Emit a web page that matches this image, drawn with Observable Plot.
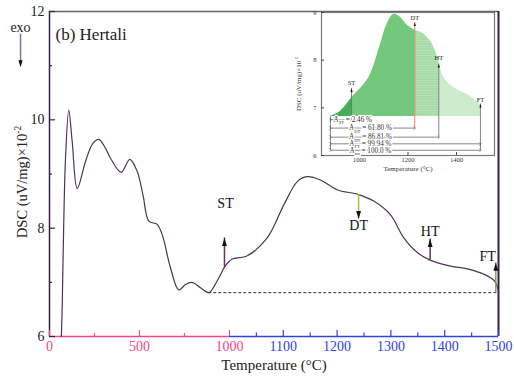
<!DOCTYPE html>
<html>
<head>
<meta charset="utf-8">
<script src="https://cdn.jsdelivr.net/npm/d3@7"></script>
<script src="https://cdn.jsdelivr.net/npm/@observablehq/plot@0.6"></script>
<style>
  body { margin: 0; background: #fff; }
  #chart { position: relative; width: 514px; height: 378px; }
  #chart svg { position: absolute; top: 0; }
</style>
</head>
<body>
<div id="chart"></div>
<script>
// DSC trace of the Hertali sample, 0–1500 °C
const temperature = [66, 71, 79, 89, 107, 126, 154, 200, 240, 274, 310, 339, 398, 446, 487, 520, 552, 598, 626, 672,
  718, 755, 793, 839, 885, 932, 972, 996, 1005, 1033, 1070, 1101, 1126, 1144, 1169, 1200, 1240, 1268, 1299, 1324,
  1349, 1373, 1411, 1442, 1473, 1492, 1500];
const dsc = [6.0, 6.6, 8.07, 9.29, 10.18, 9.6, 8.73, 9.23, 9.56, 9.64, 9.48, 9.29, 9.03, 9.27, 9.05, 8.6, 8.13, 8.07, 7.88, 7.27,
  6.86, 6.96, 7.0, 6.9, 6.81, 7.03, 7.28, 7.38, 7.43, 7.49, 7.82, 8.43, 8.86, 8.95, 8.89, 8.71, 8.62, 8.5, 8.25, 7.82,
  7.55, 7.41, 7.3, 7.25, 7.15, 7.03, 6.84];
const baselineDsc = 6.81;
const baselineStart = 885;

// Characteristic temperatures on the main trace
const eventNames = ["ST", "DT", "HT", "FT"];
const eventTemperature = [972, 1240, 1373, 1495];
const eventBase = [7.28, 8.62, 7.41, 6.81];
const eventTip = [7.82, 8.17, 7.80, 7.36];
const eventLabelTemperature = [978, 1240, 1373, 1480];
const eventLabelDsc = [8.46, 8.05, 7.93, 7.47];

// Close-up of the melting region (inset)
const insetTemperature = [880, 922, 967, 1018, 1045, 1087, 1114, 1141, 1169, 1197, 1228, 1265, 1300, 1327, 1348, 1389, 1444, 1499];
const insetDsc = [6.82, 6.93, 7.21, 7.49, 7.70, 8.34, 8.76, 8.96, 8.90, 8.73, 8.63, 8.55, 8.34, 7.99, 7.63, 7.42, 7.28, 7.07];
const insetBaseline = 6.82;
const insetStart = 880;
const insetEventTemperature = [967, 1228, 1327, 1499];
const insetEventTip = [7.41, 8.79, 7.92, 7.08];
const insetEventLabelDsc = [7.52, 8.89, 8.05, 7.16];

// Area fractions between the onset and each characteristic temperature
const areaLabels = ["A_{ST} = 2.46 %", "A_{DT} = 61.80 %", "A_{HT} = 86.81 %", "A_{FT} = 99.94 %", "A_{tot} = 100.0 %"];
const areaEnd = [967, 1228, 1327, 1499, 1499];
const areaRowDsc = [6.75, 6.575, 6.385, 6.245, 6.11];

// Tick values
const xMajorLow = [0, 500, 1000];
const xMinorLow = [250, 750];
const xMajorHigh = [1100, 1200, 1300, 1400, 1500];
const xMinorHigh = [1050, 1150, 1250, 1350, 1450];
const yMajor = [6, 8, 10, 12];
const yMinor = [7, 9, 11];
const insetXTicks = [1000, 1200, 1400];
const insetYTicks = [6, 7, 8, 9];

const curvePoints = temperature.map((t, i) => ({t, v: dsc[i]}));
const insetPoints = insetTemperature.map((t, i) => ({t, v: insetDsc[i]}));
const events = eventNames.map((name, i) => ({
  name, t: eventTemperature[i], base: eventBase[i], tip: eventTip[i],
  lt: eventLabelTemperature[i], lv: eventLabelDsc[i]
}));
const insetEvents = eventNames.map((name, i) => ({name, t: insetEventTemperature[i], tip: insetEventTip[i], lv: insetEventLabelDsc[i]}));
const areaRows = areaLabels.map((label, i) => ({label, t: areaEnd[i], v: areaRowDsc[i]}));

const pink = "#f2468c";
const blue = "#2d44e2";
const frameDark = "#35223f";
const serif = "'Liberation Serif', 'Times New Roman', serif";

// narrow filled arrowhead with its tip at the origin
const arrowHead = {
  draw(context, size) {
    const r = Math.sqrt(size / Math.PI);
    context.moveTo(0, 0);
    context.lineTo(r * 0.6, r * 2);
    context.lineTo(-r * 0.6, r * 2);
    context.closePath();
  }
};

const frameH = 378 - 11 - 42;
const frameW = 514 - 49 - 16;

const main = Plot.plot({
  width: 514,
  height: 378,
  marginLeft: 49,
  marginRight: 16,
  marginTop: 11,
  marginBottom: 42,
  x: {type: "linear", domain: [0, 1000, 1500], range: [49, 229, 498], axis: null},
  y: {domain: [6, 12], axis: null},
  style: {background: "transparent", fontFamily: serif, fontSize: "14px", overflow: "visible", color: "#111"},
  marks: [
    // frame
    Plot.ruleY([12], {stroke: "#666", strokeWidth: 1.5}),
    Plot.ruleX([0], {stroke: frameDark, strokeWidth: 1.5}),
    Plot.ruleX([1500], {stroke: frameDark, strokeWidth: 2}),
    Plot.ruleY([{y: 6, a: 0, b: 1000}], {y: "y", x1: "a", x2: "b", stroke: pink, strokeWidth: 1.5}),
    Plot.ruleY([{y: 6, a: 1000, b: 1500}], {y: "y", x1: "a", x2: "b", stroke: blue, strokeWidth: 1.5}),
    // inward ticks
    Plot.tickX(xMajorLow, {x: d => d, stroke: pink, strokeWidth: 1.2, insetTop: frameH - 6}),
    Plot.tickX(xMinorLow, {x: d => d, stroke: pink, strokeWidth: 1.2, insetTop: frameH - 3}),
    Plot.tickX(xMajorHigh, {x: d => d, stroke: blue, strokeWidth: 1.2, insetTop: frameH - 6}),
    Plot.tickX(xMinorHigh, {x: d => d, stroke: blue, strokeWidth: 1.2, insetTop: frameH - 3.5}),
    Plot.tickY(yMajor, {y: d => d, stroke: frameDark, strokeWidth: 1.2, insetRight: frameW - 6}),
    Plot.tickY(yMinor, {y: d => d, stroke: frameDark, strokeWidth: 1.2, insetRight: frameW - 3}),
    // tick labels
    Plot.text(xMajorLow, {x: d => d, text: d => String(d), frameAnchor: "bottom", dy: 14, fill: pink}),
    Plot.text(xMajorHigh, {x: d => d, text: d => String(d), frameAnchor: "bottom", dy: 14, fill: blue}),
    Plot.text(yMajor, {y: d => d, text: d => String(d), frameAnchor: "left", dx: -5, textAnchor: "end", fill: "#222"}),
    // axis titles
    Plot.text(["Temperature (°C)"], {frameAnchor: "bottom", dy: 33, fontSize: 15, fill: "#222"}),
    Plot.text(["DSC (uV/mg)×10^{-2}"], {frameAnchor: "left", textAnchor: "middle", dx: -27, dy: 8, rotate: -90, fontSize: 14.5, fill: "#222"}),
    Plot.text(["(b) Hertali"], {frameAnchor: "top-left", dx: 6, dy: 16, textAnchor: "start", fontSize: 17, fill: "#222"}),
    Plot.text(["exo"], {x: () => -161, y: () => 11.71, fontSize: 14, fill: "#222"}),
    Plot.ruleX([{x: -161, a: 11.58, b: 11.04}], {x: "x", y1: "a", y2: "b", stroke: "#8b6f9b", strokeWidth: 1.5}),
    Plot.dot([{x: -161, y: 10.97}], {x: "x", y: "y", symbol: arrowHead, r: 3.5, rotate: 180, fill: "#111", stroke: null}),
    // baseline and trace
    Plot.ruleY([{y: baselineDsc, a: baselineStart, b: 1500}], {y: "y", x1: "a", x2: "b", stroke: "#333", strokeWidth: 1, strokeDasharray: "3,2"}),
    Plot.line(curvePoints, {x: "t", y: "v", curve: "catmull-rom", stroke: "#4d3550", strokeWidth: 1.2}),
    // characteristic temperature arrows
    Plot.ruleX(events, {x: "t", y1: "base", y2: "tip",
      stroke: d => ({ST: "#6b2d6e", DT: "#a9c23f", HT: "#6b2d6e", FT: "#8a9a60"})[d.name], strokeWidth: 1.5}),
    Plot.dot(events, {x: "t", y: "tip", symbol: arrowHead, r: 4, rotate: d => d.tip < d.base ? 180 : 0, fill: "#111", stroke: null}),
    Plot.text(events, {x: "lt", y: "lv", text: "name", fontSize: 14, fill: "#111"})
  ]
});

const iFrameH = 178 - 12 - 23;
const iFrameW = 210 - 31 - 6;
const segment = (a, b) => insetPoints.filter(d => d.t >= a && d.t <= b);
const segFills = ["#45ad52", "#74c87c", "url(#dtht-stripes)", "#ccebcc"];
const bounds = [insetStart, ...insetEventTemperature];

const inset = Plot.plot({
  width: 210,
  height: 178,
  marginLeft: 31,
  marginRight: 6,
  marginTop: 12,
  marginBottom: 23,
  x: {domain: [843, 1557], axis: null},
  y: {domain: [6, 9], axis: null},
  style: {background: "transparent", fontFamily: serif, fontSize: "7px", overflow: "visible", color: "#222"},
  marks: [
    ...segFills.map((fill, i) => Plot.areaY(segment(bounds[i], bounds[i + 1]),
      {x: "t", y1: insetBaseline, y2: "v", fill, curve: "catmull-rom"})),
    Plot.frame({stroke: "#7a7a7a", strokeWidth: 1.2}),
    Plot.tickX(insetXTicks, {x: d => d, stroke: "#444", insetTop: iFrameH - 3}),
    Plot.tickY(insetYTicks, {y: d => d, stroke: "#444", insetRight: iFrameW - 3}),
    Plot.text(insetXTicks, {x: d => d, text: d => String(d), frameAnchor: "bottom", dy: 6, fontSize: 6.5, fill: "#333"}),
    Plot.text(insetYTicks, {y: d => d, text: d => String(d), frameAnchor: "left", dx: -5, textAnchor: "end", fontSize: 6.5, fill: "#333"}),
    Plot.text(["Temperature (°C)"], {frameAnchor: "bottom", dy: 15, fontSize: 7, fill: "#333"}),
    Plot.text(["DSC (uV/mg)×10^{-2}"], {frameAnchor: "left", textAnchor: "middle", dx: -23, rotate: -90, fontSize: 7, fill: "#333"}),
    // onset line and characteristic temperature markers
    Plot.ruleX([{x: insetStart, a: insetBaseline, b: areaRowDsc[4]}], {x: "x", y1: "a", y2: "b", stroke: "#666", strokeWidth: 0.8}),
    Plot.ruleX(insetEvents, {x: "t", y1: (d, i) => areaRowDsc[i === 3 ? 4 : i], y2: "tip",
      stroke: d => d.name === "DT" ? "#e8693b" : "#666", strokeWidth: 0.8}),
    Plot.dot(insetEvents, {x: "t", y: "tip", symbol: arrowHead, r: 1.8, fill: "#111", stroke: null}),
    Plot.text(insetEvents, {x: "t", y: "lv", text: "name", fontSize: 6.5, fill: "#222"}),
    // area fraction rows
    Plot.link(areaRows, {x1: () => insetStart, x2: "t", y1: "v", y2: "v", stroke: "#555", strokeWidth: 0.7,
      markerStart: "arrow", markerEnd: "arrow"}),
    Plot.text(areaRows, {x: (d, i) => i === 0 ? 972 : 1045, y: "v", text: "label",
      textAnchor: (d, i) => i === 0 ? "start" : "middle", fontSize: 7.2, fill: "#333", stroke: "white", strokeWidth: 2.5})
  ]
});
inset.style.left = "290px";

const chart = document.getElementById("chart");
chart.append(main, inset);

// striped fill for the DT–HT band
const pattern = d3.select(inset).insert("defs", ":first-child")
  .append("pattern").attr("id", "dtht-stripes").attr("patternUnits", "userSpaceOnUse")
  .attr("width", 4).attr("height", 2.5);
pattern.append("rect").attr("width", 4).attr("height", 2.5).attr("fill", "#a4dba6");
pattern.append("rect").attr("width", 4).attr("height", 0.7).attr("fill", "#bde5bd");

// render _{..} and ^{..} as sub- and superscripts
function richText(svg) {
  d3.select(svg).selectAll("text").each(function () {
    const s = this.textContent;
    if (!/[_^]\{/.test(s)) return;
    const fs = parseFloat(getComputedStyle(this).fontSize);
    const parts = s.split(/([_^]\{[^}]*\})/).filter(p => p);
    this.textContent = "";
    let shift = 0;
    for (const p of parts) {
      const m = p.match(/^([_^])\{([^}]*)\}$/);
      const t = d3.select(this).append("tspan");
      if (m) {
        const target = m[1] === "_" ? fs * 0.3 : -fs * 0.42;
        t.attr("dy", target - shift).attr("font-size", fs * 0.65).text(m[2]);
        shift = target;
      } else {
        t.attr("dy", -shift).text(p);
        shift = 0;
      }
    }
  });
}
richText(main);
richText(inset);
</script>
</body>
</html>
